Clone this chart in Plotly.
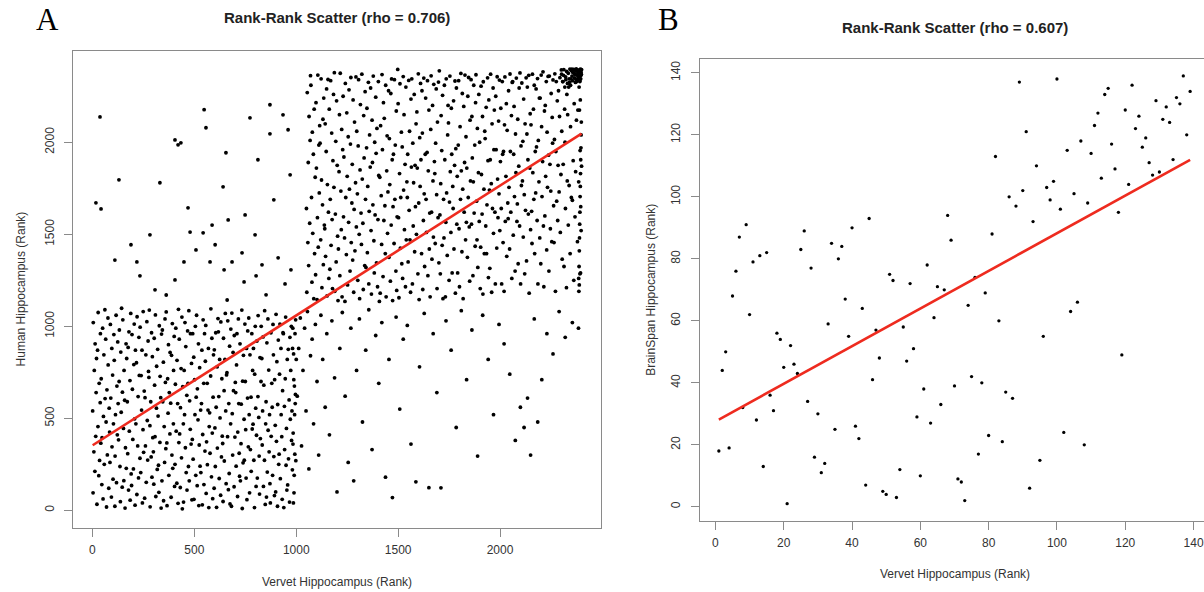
import numpy as np
import plotly.graph_objects as go

# ---------------- Panel A data (Vervet vs Human hippocampus ranks) ----------------
# block of low-rank genes (vervet 0-1000, human 0-1100)
blockA1_vervet = [
    1, 3, 4, 7, 9, 12, 13, 16, 18, 20,
    22, 25, 27, 28, 31, 33, 35, 38, 39, 41,
    43, 46, 47, 50, 52, 54, 56, 58, 61, 62,
    65, 67, 69, 71, 73, 76, 77, 80, 82, 84,
    86, 88, 90, 93, 95, 96, 99, 101, 103, 105,
    107, 110, 111, 113, 116, 118, 120, 122, 124, 126,
    128, 131, 132, 135, 137, 139, 141, 143, 146, 147,
    149, 152, 154, 155, 158, 160, 162, 165, 166, 168,
    171, 173, 175, 177, 179, 181, 184, 185, 188, 190,
    192, 194, 196, 198, 201, 203, 205, 207, 209, 211,
    213, 216, 218, 219, 222, 224, 226, 228, 230, 233,
    234, 237, 239, 241, 243, 245, 248, 249, 251, 254,
    256, 258, 260, 262, 264, 267, 269, 271, 273, 275,
    277, 279, 282, 283, 286, 288, 290, 292, 294, 296,
    299, 301, 303, 305, 307, 309, 311, 314, 315, 318,
    320, 322, 324, 326, 328, 331, 332, 335, 337, 339,
    341, 343, 345, 348, 349, 352, 354, 356, 358, 360,
    362, 365, 366, 369, 371, 373, 375, 377, 380, 381,
    384, 386, 388, 390, 392, 394, 397, 398, 401, 403,
    405, 407, 409, 411, 414, 415, 418, 420, 422, 424,
    426, 428, 431, 432, 435, 437, 439, 441, 443, 446,
    447, 450, 452, 454, 456, 458, 460, 463, 464, 467,
    469, 471, 473, 475, 477, 480, 481, 484, 486, 488,
    490, 492, 494, 497, 498, 501, 503, 505, 507, 509,
    511, 514, 515, 518, 520, 522, 524, 526, 528, 531,
    532, 535, 537, 539, 541, 543, 546, 547, 550, 552,
    554, 556, 558, 560, 563, 564, 567, 569, 571, 573,
    575, 577, 580, 581, 584, 586, 588, 590, 592, 594,
    597, 598, 601, 603, 605, 607, 609, 612, 613, 616,
    618, 620, 622, 624, 626, 629, 630, 633, 635, 637,
    639, 641, 643, 646, 647, 650, 652, 654, 656, 658,
    660, 663, 664, 667, 669, 671, 673, 675, 678, 679,
    682, 684, 686, 688, 690, 692, 695, 696, 699, 701,
    703, 705, 707, 709, 712, 713, 716, 718, 720, 722,
    724, 726, 729, 730, 733, 735, 737, 739, 741, 744,
    745, 748, 750, 752, 754, 756, 758, 761, 762, 765,
    767, 769, 771, 773, 775, 778, 779, 782, 784, 786,
    788, 790, 792, 795, 796, 799, 801, 803, 805, 807,
    809, 812, 813, 816, 818, 820, 822, 824, 827, 828,
    831, 833, 835, 837, 839, 841, 844, 845, 848, 850,
    852, 854, 856, 858, 861, 862, 865, 867, 869, 871,
    873, 876, 877, 880, 882, 884, 886, 888, 890, 893,
    894, 897, 899, 901, 903, 905, 908, 909, 912, 914,
    916, 918, 920, 922, 925, 926, 929, 931, 933, 935,
    937, 939, 942, 943, 946, 948, 950, 952, 954, 956,
    958, 961, 962, 965, 967, 969, 971, 973, 976, 977,
    979, 981, 983, 985, 987, 989, 991, 993, 995, 997,
    982, 984, 986, 988, 990, 992, 994, 996, 998, 1000,
]
blockA1_human = [
    540, 95, 1020, 318, 760, 212, 905, 402, 640, 825,
    33, 870, 455, 1075, 188, 690, 271, 585, 960, 365,
    715, 140, 395, 990, 62, 510, 845, 250, 1090, 607,
    930, 480, 18, 655, 301, 1045, 790, 120, 555, 425,
    260, 1010, 610, 72, 880, 345, 735, 169, 470, 955,
    815, 22, 295, 520, 1060, 150, 675, 410, 915, 580,
    383, 700, 980, 238, 47, 860, 533, 1098, 126, 642,
    1035, 445, 161, 760, 598, 12, 340, 905, 228, 825,
    590, 308, 885, 110, 970, 430, 705, 55, 1070, 198,
    135, 955, 658, 385, 225, 792, 1012, 497, 28, 870,
    470, 802, 86, 1052, 350, 618, 176, 940, 733, 283,
    995, 205, 732, 545, 870, 40, 438, 1080, 315, 648,
    66, 612, 350, 845, 152, 1025, 488, 273, 920, 755,
    722, 1088, 460, 19, 590, 290, 965, 180, 835, 395,
    318, 142, 935, 680, 400, 1062, 75, 555, 783, 222,
    875, 512, 245, 98, 1003, 369, 728, 612, 12, 958,
    160, 980, 590, 805, 52, 455, 260, 1040, 695, 335,
    1078, 366, 25, 715, 528, 900, 190, 640, 415, 858,
    582, 71, 842, 300, 1015, 228, 470, 760, 945, 130,
    250, 685, 990, 430, 147, 815, 580, 38, 1092, 368,
    930, 415, 124, 558, 770, 285, 1050, 8, 672, 470,
    45, 760, 520, 1020, 340, 890, 205, 625, 110, 975,
    690, 238, 1085, 160, 595, 440, 960, 360, 798, 57,
    385, 960, 278, 832, 60, 710, 520, 1000, 190, 615,
    1060, 134, 660, 492, 905, 26, 355, 775, 240, 545,
    205, 580, 870, 30, 412, 1035, 690, 140, 960, 322,
    810, 1005, 92, 372, 690, 248, 545, 880, 15, 455,
    530, 310, 730, 1095, 182, 935, 420, 63, 615, 845,
    120, 872, 448, 238, 965, 560, 16, 780, 338, 1042,
    970, 618, 173, 820, 502, 82, 1024, 290, 715, 403,
    363, 48, 935, 650, 268, 820, 1070, 540, 145, 736,
    748, 400, 1030, 112, 580, 200, 892, 35, 470, 985,
    22, 1072, 525, 300, 858, 650, 128, 950, 398, 695,
    640, 240, 790, 960, 75, 425, 1040, 580, 310, 185,
    905, 160, 362, 577, 1088, 10, 702, 258, 842, 495,
    272, 1012, 700, 438, 175, 880, 58, 610, 975, 345,
    1045, 520, 95, 845, 330, 615, 212, 960, 442, 760,
    468, 880, 272, 15, 740, 1000, 555, 130, 408, 920,
    175, 618, 1058, 505, 295, 88, 830, 390, 700, 1000,
    825, 355, 540, 942, 130, 680, 272, 1085, 32, 470,
    590, 72, 910, 208, 1040, 435, 762, 318, 520, 145,
    40, 965, 402, 690, 560, 190, 1010, 845, 292, 80,
    710, 462, 100, 1065, 375, 808, 22, 575, 925, 250,
    305, 740, 1012, 172, 880, 520, 400, 60, 650, 965,
    960, 15, 565, 330, 715, 1050, 245, 445, 110, 820,
    138, 875, 280, 600, 45, 940, 495, 760, 1000, 380,
    540, 220, 990, 420, 850, 95, 675, 305, 580, 1035,
    880, 360, 40, 710, 190, 520, 960, 630, 270, 820,
]

# block of high-rank genes (vervet 1050-2400, human 1130-2400)
blockA2_vervet = [
    1050, 1052, 1054, 1057, 1059, 1061, 1063, 1066, 1068, 1070,
    1072, 1075, 1077, 1079, 1081, 1084, 1086, 1088, 1090, 1093,
    1095, 1097, 1099, 1102, 1104, 1106, 1108, 1111, 1113, 1115,
    1117, 1120, 1122, 1124, 1126, 1129, 1131, 1133, 1135, 1138,
    1140, 1142, 1144, 1147, 1149, 1151, 1153, 1156, 1158, 1160,
    1162, 1165, 1167, 1169, 1171, 1174, 1176, 1178, 1180, 1183,
    1185, 1187, 1189, 1192, 1194, 1196, 1198, 1201, 1203, 1205,
    1207, 1210, 1212, 1214, 1216, 1219, 1221, 1223, 1225, 1228,
    1230, 1232, 1234, 1237, 1239, 1241, 1243, 1246, 1248, 1250,
    1252, 1255, 1257, 1259, 1261, 1264, 1266, 1268, 1270, 1273,
    1275, 1277, 1279, 1282, 1284, 1286, 1288, 1291, 1293, 1295,
    1297, 1300, 1302, 1304, 1306, 1309, 1311, 1313, 1315, 1318,
    1320, 1322, 1324, 1327, 1329, 1331, 1333, 1336, 1338, 1340,
    1342, 1345, 1347, 1349, 1351, 1354, 1356, 1358, 1360, 1363,
    1365, 1367, 1369, 1372, 1374, 1376, 1378, 1381, 1383, 1385,
    1387, 1390, 1392, 1394, 1396, 1399, 1401, 1403, 1405, 1408,
    1410, 1412, 1414, 1417, 1419, 1421, 1423, 1426, 1428, 1430,
    1432, 1435, 1437, 1439, 1441, 1444, 1446, 1448, 1450, 1453,
    1455, 1457, 1459, 1462, 1464, 1466, 1468, 1471, 1473, 1475,
    1477, 1480, 1482, 1484, 1486, 1489, 1491, 1493, 1495, 1498,
    1500, 1502, 1504, 1507, 1509, 1511, 1513, 1516, 1518, 1520,
    1522, 1525, 1527, 1529, 1531, 1534, 1536, 1538, 1540, 1543,
    1545, 1547, 1549, 1552, 1554, 1556, 1558, 1561, 1563, 1565,
    1567, 1570, 1572, 1574, 1576, 1579, 1581, 1583, 1585, 1588,
    1590, 1592, 1594, 1597, 1599, 1601, 1603, 1606, 1608, 1610,
    1612, 1615, 1617, 1619, 1621, 1624, 1626, 1628, 1630, 1633,
    1635, 1637, 1639, 1642, 1644, 1646, 1648, 1651, 1653, 1655,
    1657, 1660, 1662, 1664, 1666, 1669, 1671, 1673, 1675, 1678,
    1680, 1682, 1684, 1687, 1689, 1691, 1693, 1696, 1698, 1700,
    1702, 1705, 1707, 1709, 1711, 1714, 1716, 1718, 1720, 1723,
    1725, 1727, 1729, 1732, 1734, 1736, 1738, 1741, 1743, 1745,
    1747, 1750, 1752, 1754, 1756, 1759, 1761, 1763, 1765, 1768,
    1770, 1772, 1774, 1777, 1779, 1781, 1783, 1786, 1788, 1790,
    1792, 1795, 1797, 1799, 1801, 1804, 1806, 1808, 1810, 1813,
    1815, 1817, 1819, 1822, 1824, 1826, 1828, 1831, 1833, 1835,
    1837, 1840, 1842, 1844, 1846, 1849, 1851, 1853, 1855, 1858,
    1860, 1862, 1864, 1867, 1869, 1871, 1873, 1876, 1878, 1880,
    1882, 1885, 1887, 1889, 1891, 1894, 1896, 1898, 1900, 1903,
    1905, 1907, 1909, 1912, 1914, 1916, 1918, 1921, 1923, 1925,
    1927, 1930, 1932, 1934, 1936, 1939, 1941, 1943, 1945, 1948,
    1950, 1952, 1954, 1957, 1959, 1961, 1963, 1966, 1968, 1970,
    1972, 1975, 1977, 1979, 1981, 1984, 1986, 1988, 1990, 1993,
    1995, 1997, 1999, 2002, 2004, 2006, 2008, 2011, 2013, 2015,
    2017, 2020, 2022, 2024, 2026, 2029, 2031, 2033, 2035, 2038,
    2040, 2042, 2044, 2047, 2049, 2051, 2053, 2056, 2058, 2060,
    2062, 2065, 2067, 2069, 2071, 2074, 2076, 2078, 2080, 2083,
    2085, 2087, 2089, 2092, 2094, 2096, 2098, 2101, 2103, 2105,
    2107, 2110, 2112, 2114, 2116, 2119, 2121, 2123, 2125, 2128,
    2130, 2132, 2134, 2137, 2139, 2141, 2143, 2146, 2148, 2150,
    2152, 2155, 2157, 2159, 2161, 2164, 2166, 2168, 2170, 2173,
    2175, 2177, 2179, 2182, 2184, 2186, 2188, 2191, 2193, 2195,
    2197, 2200, 2202, 2204, 2206, 2209, 2211, 2213, 2215, 2218,
    2220, 2222, 2224, 2227, 2229, 2231, 2233, 2236, 2238, 2240,
    2242, 2245, 2247, 2249, 2251, 2254, 2256, 2258, 2260, 2263,
    2265, 2267, 2269, 2272, 2274, 2276, 2278, 2281, 2283, 2285,
    2287, 2290, 2292, 2294, 2296, 2299, 2301, 2303, 2305, 2308,
    2310, 2312, 2314, 2317, 2319, 2321, 2323, 2326, 2328, 2330,
    2332, 2335, 2337, 2339, 2341, 2344, 2346, 2348, 2350, 2353,
    2355, 2357, 2359, 2362, 2364, 2366, 2368, 2371, 2373, 2375,
    2377, 2380, 2382, 2384, 2386, 2389, 2391, 2393, 2395, 2398,
]
blockA2_human = [
    1640, 1185, 2270, 1455, 1890, 1330, 2140, 1560, 2010, 2362,
    2310, 1700, 1240, 2055, 1505, 1935, 1150, 2180, 1395, 1810,
    1280, 2215, 1860, 1145, 1590, 2365, 1430, 1985, 1725, 2090,
    1995, 1470, 2345, 1795, 1210, 1660, 2125, 1335, 2240, 1550,
    1530, 2100, 1380, 1950, 2290, 1165, 1770, 2341, 1620, 1260,
    2180, 1310, 1690, 2335, 1440, 2050, 1580, 1205, 1900, 2260,
    1755, 2378, 1190, 1610, 2005, 1350, 2225, 1875, 1490, 1140,
    1420, 1840, 2150, 1275, 2375, 1735, 1525, 2070, 1160, 1960,
    2250, 1595, 1920, 1480, 1135, 2320, 1700, 1390, 2160, 1815,
    1225, 2030, 1565, 2285, 1745, 1300, 1990, 2352, 1455, 1670,
    1880, 1360, 2230, 1185, 1635, 2110, 1410, 1780, 2355, 1540,
    2060, 1720, 1250, 1980, 2340, 1500, 1150, 1850, 2205, 1615,
    1445, 2370, 1800, 1560, 1200, 2145, 1915, 1330, 2275, 1690,
    1320, 1970, 2185, 1400, 1760, 2326, 1230, 1625, 2040, 1865,
    2295, 1520, 1175, 2120, 1890, 1660, 2360, 1465, 1290, 2000,
    1605, 2245, 1940, 1345, 2075, 1215, 1580, 2330, 1820, 1135,
    1810, 1180, 2090, 1710, 1445, 2368, 1960, 1270, 2215, 1575,
    2130, 1655, 1395, 2310, 1160, 1845, 2035, 1505, 1730, 2280,
    1375, 2020, 1770, 1245, 2265, 1550, 2344, 1905, 1140, 1650,
    1935, 1450, 2340, 1690, 1985, 1300, 2170, 1195, 1595, 2396,
    2210, 1590, 1155, 1830, 2318, 1425, 1700, 2055, 1340, 1975,
    1260, 2357, 1740, 2150, 1525, 1880, 1215, 2300, 1470, 1785,
    1700, 1935, 1350, 2336, 1630, 2060, 1470, 1185, 2235, 1865,
    2345, 1230, 1995, 1545, 1780, 2260, 1405, 1875, 1650, 2100,
    1500, 2165, 1860, 1285, 2372, 1670, 1145, 2025, 1760, 2320,
    1905, 1395, 2280, 2050, 1200, 1575, 2349, 1720, 1325, 1935,
    2240, 1690, 1510, 1945, 2335, 1275, 1845, 2175, 1420, 1615,
    1160, 2070, 2361, 1620, 1365, 2200, 1790, 1485, 2315, 1895,
    1830, 1450, 1995, 2290, 1715, 1205, 2110, 1590, 2327, 1345,
    2388, 1605, 1285, 1775, 2145, 1955, 1440, 2255, 1150, 1690,
    1480, 2310, 1905, 1160, 1565, 2345, 1725, 1385, 2040, 2200,
    2105, 1250, 1675, 2360, 1840, 1510, 2185, 1935, 1290, 1760,
    1640, 2225, 1420, 1875, 2333, 1180, 1965, 2295, 1555, 1815,
    1290, 1985, 2335, 1530, 1215, 2085, 1690, 2374, 1845, 1405,
    2265, 1745, 1150, 2195, 1620, 1890, 2365, 1470, 2030, 1565,
    1860, 1375, 2250, 1700, 2352, 1540, 1245, 2120, 1790, 2340,
    1555, 2140, 1915, 1275, 1785, 2310, 1615, 1985, 1435, 2215,
    2367, 1680, 1470, 2075, 1320, 1835, 2260, 1570, 2000, 1205,
    1430, 2305, 1825, 1610, 2140, 1175, 2329, 1745, 1395, 2060,
    2020, 1545, 2190, 1395, 1660, 2350, 1900, 1265, 2230, 1740,
    1315, 1905, 2370, 1775, 1185, 2100, 1640, 2295, 1505, 1960,
    2175, 1620, 1230, 2250, 1960, 1425, 2356, 1800, 1590, 2115,
    1720, 2338, 1520, 1895, 2185, 1640, 1230, 2330, 1935, 1455,
    1950, 1190, 2095, 2355, 1570, 1815, 2210, 1380, 2065, 1670,
    1585, 2280, 1755, 1420, 2371, 1950, 1620, 2145, 1260, 2325,
    2330, 1495, 1935, 2195, 1705, 1300, 2045, 1835, 2349, 1570,
    1665, 2125, 1340, 1870, 2295, 1545, 2377, 1230, 1980, 1765,
    2322, 1790, 2005, 1485, 2235, 1715, 1285, 2100, 1630, 2350,
    1355, 2045, 2300, 1905, 1610, 2364, 1180, 1860, 2155, 1525,
    2095, 1625, 1450, 2370, 1835, 2180, 1690, 2310, 1395, 1950,
    1725, 2290, 1975, 1575, 2346, 1230, 2010, 1785, 2240, 1480,
    2240, 1340, 2365, 2085, 1705, 1895, 2383, 1545, 1215, 2170,
    1600, 2200, 1815, 2330, 1415, 2055, 1755, 2358, 1930, 1300,
    2360, 1880, 1530, 1735, 2265, 1460, 2135, 1995, 2339, 1655,
    1455, 2015, 2372, 1190, 1950, 2330, 1680, 2225, 1575, 1875,
    2280, 1730, 2140, 2351, 1510, 1825, 2393, 2060, 1365, 2330,
    1880, 2364, 1325, 2180, 2000, 1640, 2340, 1210, 2260, 1790,
    2150, 1550, 2300, 1765, 2326, 1395, 2085, 2345, 1700, 2397,
    1685, 2381, 1900, 1250, 2210, 2370, 1595, 1840, 2343, 2120,
    2330, 1460, 2175, 2368, 1785, 1225, 2337, 1955, 1290, 2365,
]

# sparse genes above the low block
sparseA_upper_vervet = [
    37, 17, 42, 405, 420, 434, 548, 557, 655, 641,
    812, 773, 871, 935, 960, 331, 469, 282, 189, 218,
    233, 307, 362, 405, 449, 508, 577, 543, 602, 646,
    685, 734, 744, 803, 832, 852, 911, 945, 974, 661,
    130, 666, 749, 890, 970, 871, 798, 479, 110, 587,
]
sparseA_upper_human = [
    2138, 1671, 1638, 2013, 1986, 1997, 2177, 2079, 1943, 1758,
    1905, 2133, 2046, 2149, 2068, 1780, 1644, 1497, 1443, 1350,
    1274, 1198, 1170, 1252, 1350, 1415, 1350, 1508, 1443, 1307,
    1350, 1399, 1241, 1274, 1334, 1171, 1372, 1230, 1307, 1143,
    1796, 1578, 1605, 1687, 1823, 2204, 1497, 1512, 1360, 1550,
]

# sparse genes below the high block
sparseA_lower_vervet = [
    1005, 1012, 1020, 1026, 1033, 1041, 1048, 1055, 1062, 1070,
    1078, 1085, 1094, 1102, 1110, 1121, 1130, 1142, 1150, 1163,
    1175, 1188, 1200, 1214, 1226, 1240, 1255, 1268, 1282, 1296,
    1310, 1325, 1341, 1356, 1372, 1390, 1405, 1420, 1438, 1455,
    1472, 1490, 1508, 1525, 1545, 1563, 1587, 1605, 1628, 1651,
    1672, 1690, 1710, 1735, 1760, 1785, 1810, 1836, 1862, 1890,
    1915, 1942, 1968, 1995, 2020, 2048, 2075, 2100, 2118, 2135,
    2150, 2168, 2185, 2205, 2230, 2260, 2290, 2320, 2355, 2385,
]
sparseA_lower_human = [
    620, 880, 1045, 350, 760, 990, 540, 1080, 225, 840,
    930, 470, 1010, 700, 300, 1060, 820, 560, 960, 410,
    1030, 720, 100, 880, 1075, 620, 260, 990, 160, 760,
    1040, 480, 870, 1090, 330, 950, 690, 1020, 180, 820,
    69, 1050, 550, 930, 1005, 360, 155, 780, 1070, 123,
    960, 640, 122, 1030, 870, 450, 1085, 710, 980, 295,
    1060, 820, 520, 1010, 905, 740, 380, 560, 450, 610,
    300, 1040, 480, 710, 960, 850, 1080, 940, 1020, 990,
]

# dense top-right corner and right-edge column
cornerA_vervet = [
    2302, 2308, 2313, 2318, 2322, 2327, 2331, 2335, 2339, 2343,
    2346, 2350, 2353, 2356, 2359, 2362, 2365, 2367, 2370, 2372,
    2374, 2376, 2378, 2380, 2382, 2384, 2386, 2388, 2390, 2391,
    2392, 2393, 2394, 2395, 2396, 2397, 2398, 2399, 2400, 2389,
    2386, 2388, 2389, 2390, 2391, 2392, 2393, 2394, 2395, 2396,
    2397, 2398, 2399, 2387, 2390, 2392, 2394, 2396, 2398, 2400,
]
cornerA_human = [
    2370, 2330, 2395, 2300, 2355, 2385, 2320, 2375, 2345, 2398,
    2310, 2390, 2360, 2335, 2380, 2396, 2350, 2372, 2325, 2388,
    2399, 2365, 2340, 2392, 2378, 2355, 2385, 2300, 2370, 2395,
    2330, 2388, 2360, 2398, 2345, 2380, 2392, 2370, 2395, 2350,
    1260, 1325, 1410, 1480, 1555, 1620, 1705, 1760, 1830, 1905,
    1970, 2040, 2110, 1190, 2175, 1285, 2230, 1650, 1520, 1870,
]

rho_A = 0.706
n_genes_A = 2400

# ---------------- Panel B data (Vervet vs BrainSpan hippocampus ranks) ----------------
vervet_B = [
    9, 7, 26, 40, 45, 25, 34, 37, 15, 13, 11, 36, 6, 28,
    89, 91, 82, 90, 86, 88, 68, 69, 81, 62, 51, 52, 57, 65, 67, 79, 76,
    100, 137, 139, 115, 114, 122, 129, 135, 136, 132, 120, 112, 124, 131,
    133, 111, 123, 138, 126, 107, 116, 125, 103, 110, 134, 127, 94, 117,
    128, 130, 113, 99, 97, 121, 105, 98, 109, 101, 118, 93,
    5, 10, 3, 2, 18, 19, 22, 20, 23, 24, 38, 43, 33, 39, 16, 8, 17, 12,
    27, 30, 35, 41, 42, 1, 4, 14, 29, 32, 31, 44, 21,
    74, 83, 64, 55, 47, 58, 48, 56, 46, 75, 78, 70, 61, 85, 87, 66, 59,
    63, 80, 84, 77, 54, 60, 49, 50, 53, 71, 72, 73, 92,
    106, 104, 96, 119, 102, 108, 95,
]
brainspan_B = [
    91, 87, 89, 90, 93, 83, 85, 84, 82, 81, 79, 80, 76, 77,
    137, 121, 113, 102, 100, 97, 94, 86, 88, 78, 75, 73, 72, 71, 70, 69, 74,
    138, 139, 134, 135, 133, 136, 131, 132, 130, 129, 128, 127, 126, 125,
    124, 123, 122, 120, 119, 118, 117, 116, 115, 114, 112, 111, 110, 109,
    107, 108, 106, 105, 103, 104, 101, 99, 98, 96, 95, 92,
    68, 62, 50, 44, 56, 54, 52, 45, 46, 43, 67, 64, 59, 55, 36, 32, 31, 28,
    34, 30, 25, 26, 22, 18, 19, 13, 16, 14, 11, 7, 1,
    65, 60, 61, 58, 57, 51, 48, 47, 41, 42, 40, 39, 38, 37, 35, 33, 29,
    27, 23, 21, 17, 12, 10, 5, 4, 3, 9, 8, 2, 6,
    66, 63, 55, 49, 24, 20, 15,
]

x_ticks_A = [0, 500, 1000, 1500, 2000]
y_ticks_A = [0, 500, 1000, 1500, 2000]
x_ticks_B = [0, 20, 40, 60, 80, 100, 120, 140]
y_ticks_B = [0, 20, 40, 60, 80, 100, 120, 140]

# ---------------- assemble ----------------
vervet_A = (blockA1_vervet + blockA2_vervet + sparseA_upper_vervet
            + sparseA_lower_vervet + cornerA_vervet)
human_A = (blockA1_human + blockA2_human + sparseA_upper_human
           + sparseA_lower_human + cornerA_human)
assert len(vervet_A) == len(human_A), (len(blockA1_vervet), len(blockA1_human),
                                        len(blockA2_vervet), len(blockA2_human))
assert len(vervet_B) == len(brainspan_B), (len(vervet_B), len(brainspan_B))

fitA_x = np.array([1, n_genes_A])
fitA_y = rho_A * fitA_x + (n_genes_A + 1) / 2 * (1 - rho_A)

vb = np.array(vervet_B, dtype=float)
bb = np.array(brainspan_B, dtype=float)
slopeB, interceptB = np.polyfit(vb, bb, 1)
fitB_x = np.array([vb.min(), vb.max()])
fitB_y = slopeB * fitB_x + interceptB

W, H = 1204, 592
RED = "#ee2b1f"
AXC = "#8a8a8a"
TXT = "#333333"
FONT = "Liberation Sans, Arial, sans-serif"

fig = go.Figure()
fig.add_trace(go.Scatter(x=vervet_A, y=human_A, mode="markers",
                         marker=dict(size=3.8, color="black", line=dict(width=0)),
                         xaxis="x", yaxis="y", hoverinfo="skip"))
fig.add_trace(go.Scatter(x=fitA_x, y=fitA_y, mode="lines",
                         line=dict(color=RED, width=2.6), xaxis="x", yaxis="y"))
fig.add_trace(go.Scatter(x=vervet_B, y=brainspan_B, mode="markers",
                         marker=dict(size=3.3, color="black", line=dict(width=0)),
                         xaxis="x2", yaxis="y2", hoverinfo="skip"))
fig.add_trace(go.Scatter(x=fitB_x, y=fitB_y, mode="lines",
                         line=dict(color=RED, width=2.6), xaxis="x2", yaxis="y2"))

common = dict(showgrid=False, zeroline=False, showline=True, linecolor=AXC,
              linewidth=1, ticks="outside", ticklen=8, tickcolor=AXC,
              tickwidth=1, tickfont=dict(family=FONT, size=12, color=TXT))

fig.update_layout(
    width=W, height=H, margin=dict(l=0, r=0, t=0, b=0),
    paper_bgcolor="white", plot_bgcolor="white", showlegend=False,
    xaxis=dict(domain=[73.1 / W, 601.1 / W], range=[-95, 2496],
               tickvals=x_ticks_A, anchor="y", mirror=True,
               ticklabelstandoff=3, **common),
    yaxis=dict(domain=[1 - 527.8 / H, 1 - 51.0 / H], range=[-95, 2496],
               tickvals=y_ticks_A, anchor="x", mirror=True, tickangle=-90,
               ticklabelstandoff=5, **common),
    xaxis2=dict(domain=[700.0 / W, 1.0], range=[-4.52, 143.06],
                tickvals=x_ticks_B, anchor="y2", mirror=True,
                ticklabelstandoff=3, **common),
    yaxis2=dict(domain=[1 - 520.8 / H, 1 - 58.8 / H], range=[-4.52, 144.52],
                tickvals=y_ticks_B, anchor="x2", mirror=False, tickangle=-90,
                ticklabelstandoff=6, **common),
)

def ann(text, x, y, size, color=TXT, family=FONT, angle=0):
    fig.add_annotation(text=text, x=x / W, y=1 - y / H, xref="paper",
                       yref="paper", showarrow=False, xanchor="center",
                       yanchor="middle", textangle=angle,
                       font=dict(family=family, size=size, color=color))

ann("A", 47, 20, 31, color="black", family="Liberation Serif, serif")
ann("B", 668, 20, 31, color="black", family="Liberation Serif, serif")
ann("<b>Rank-Rank Scatter (rho = 0.706)</b>", 337, 18, 15, color="#222222")
ann("<b>Rank-Rank Scatter (rho = 0.607)</b>", 954.5, 28, 15, color="#222222")
ann("Vervet Hippocampus (Rank)", 337, 582, 12)
ann("Vervet Hippocampus (Rank)", 954.5, 574, 12)
ann("Human Hippocampus (Rank)", 21, 289.4, 12, angle=-90)
ann("BrainSpan Hippocampus (Rank)", 651, 289.8, 12, angle=-90)

fig.write_html("out.html")
